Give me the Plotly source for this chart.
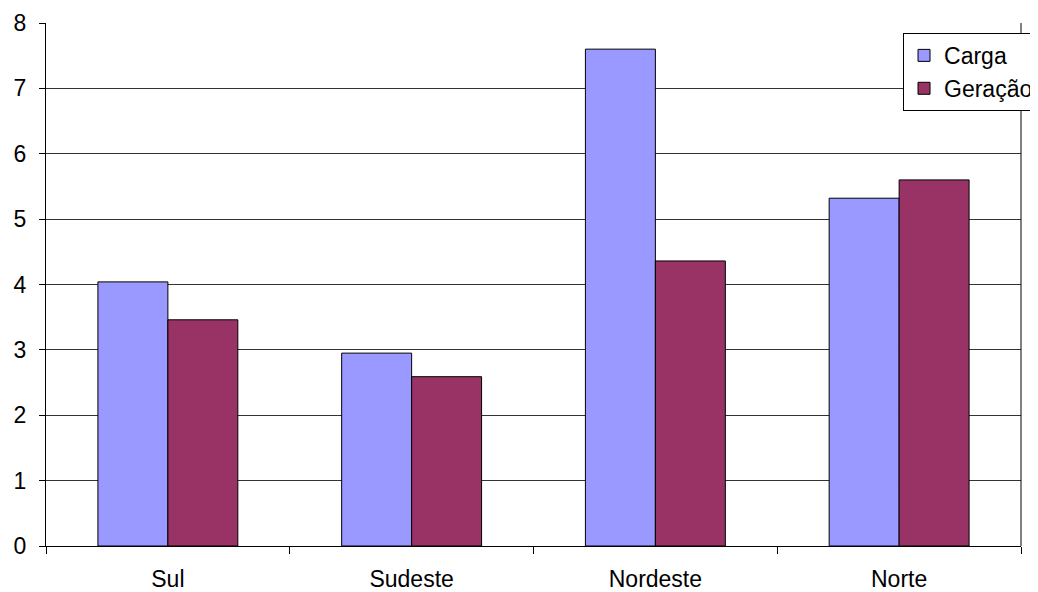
import plotly.graph_objects as go

categories = ["Sul", "Sudeste", "Nordeste", "Norte"]
carga = [4.04, 2.95, 7.60, 5.32]
geracao = [3.46, 2.59, 4.36, 5.60]
y_ticks = [0, 1, 2, 3, 4, 5, 6, 7, 8]

fig = go.Figure()
fig.add_trace(go.Bar(name="Carga", x=categories, y=carga,
                     marker=dict(color="#9999FF", line=dict(color="#000000", width=1))))
fig.add_trace(go.Bar(name="Geração", x=categories, y=geracao,
                     marker=dict(color="#993366", line=dict(color="#000000", width=1))))

# The page body has an 8px margin, so the figure is shifted by 8px; compensate here.
fig.update_layout(
    width=1030, height=584,
    margin=dict(l=38, r=17, t=15, b=46, autoexpand=False),
    paper_bgcolor="white", plot_bgcolor="white",
    barmode="group", bargap=0.426, bargroupgap=0,
    font=dict(family="Liberation Sans, Arial, sans-serif", size=23, color="#000000"),
    legend=dict(x=0.879, y=0.981, xanchor="left", yanchor="top",
                bordercolor="#000000", borderwidth=1, bgcolor="white",
                font=dict(size=23), tracegroupgap=0, itemwidth=30),
    showlegend=True,
)
fig.update_xaxes(showline=True, linecolor="#000000", linewidth=1, automargin=False,
                 ticks="outside", tickson="boundaries", ticklen=7, tickcolor="#000000",
                 ticklabelstandoff=12, showgrid=False, mirror=False)
fig.update_yaxes(range=[0, 8], tickvals=y_ticks, showline=True, linecolor="#000000", linewidth=1,
                 automargin=False, ticks="outside", ticklen=6, tickcolor="#000000",
                 ticklabelstandoff=8, showgrid=True, gridcolor="#333333", gridwidth=1,
                 zeroline=False)
fig.add_shape(type="line", xref="paper", yref="paper", x0=1, x1=1, y0=0, y1=1,
              line=dict(color="#000000", width=1))

fig.write_html("out.html")
